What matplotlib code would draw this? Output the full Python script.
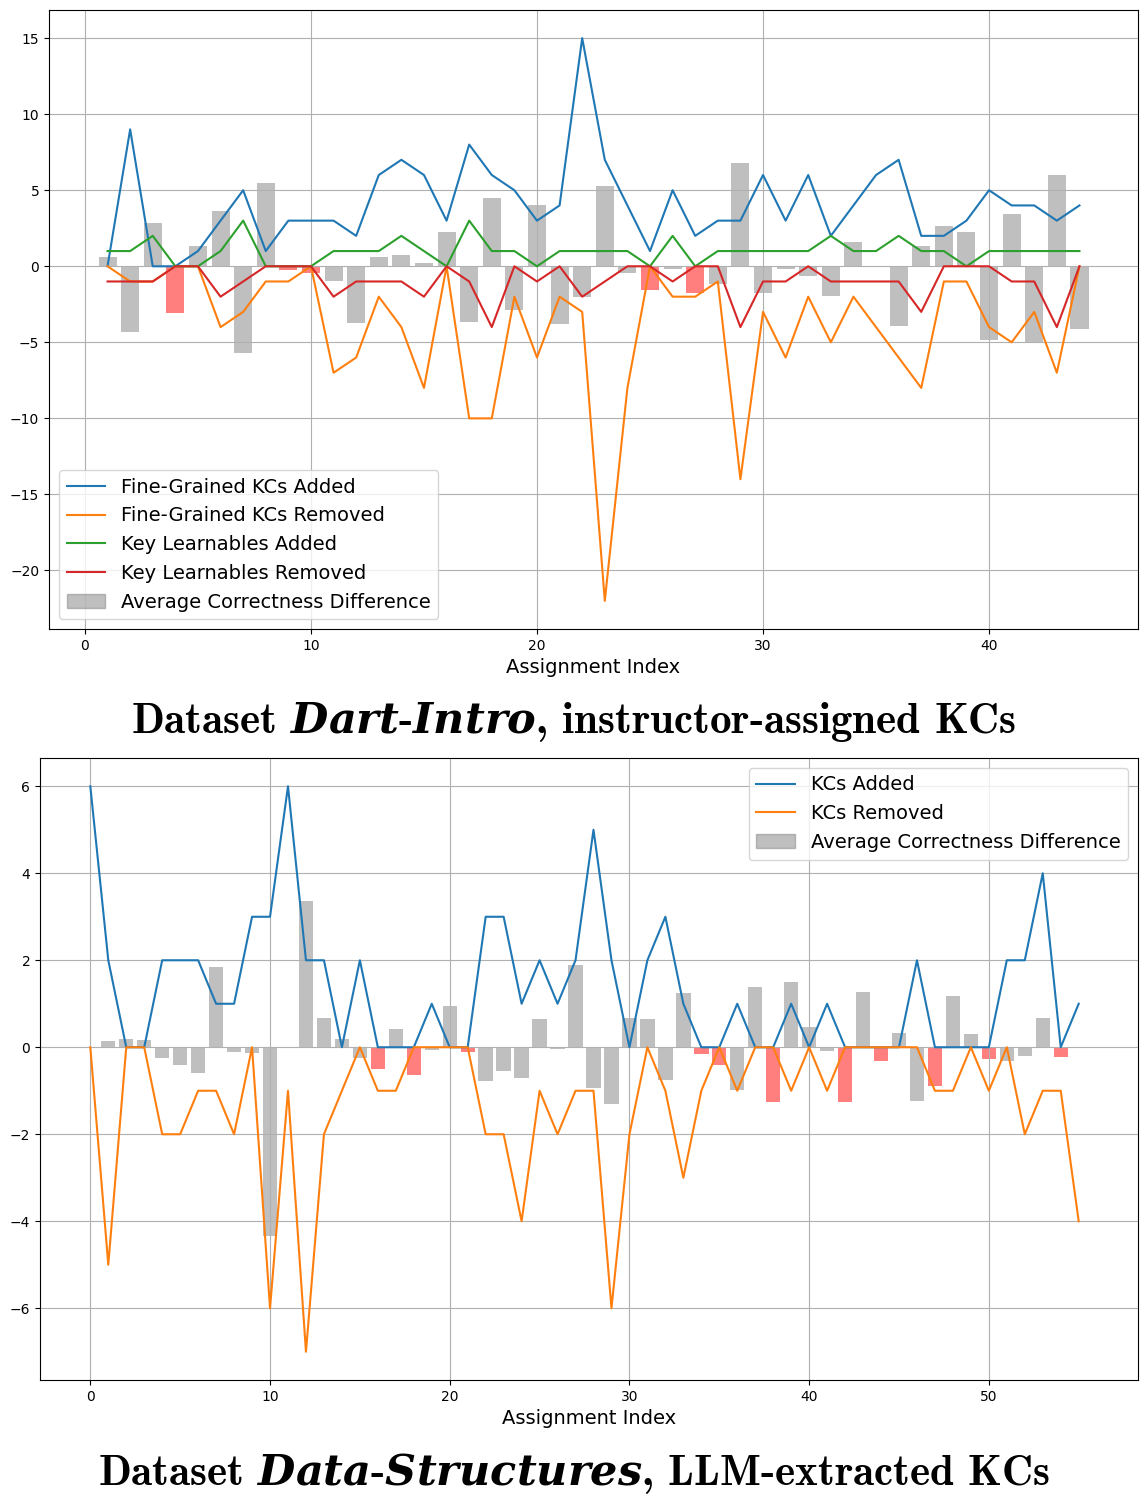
import numpy as np
import matplotlib
matplotlib.use("Agg")
import matplotlib.pyplot as plt
from matplotlib.patches import Patch

plt.rcParams['mathtext.fontset'] = 'custom'
plt.rcParams['mathtext.bf'] = 'cmb10'
plt.rcParams['mathtext.bfit'] = 'DejaVu Serif:italic:bold'

# --- Dataset Dart-Intro (instructor-assigned KCs), assignments 1..44
dart_idx = np.arange(1, 45)
dart_fg_added = [0, 9, 0, 0, 1, 3, 5, 1, 3, 3, 3, 2, 6, 7, 6, 3, 8, 6, 5, 3, 4, 15,
                 7, 4, 1, 5, 2, 3, 3, 6, 3, 6, 2, 4, 6, 7, 2, 2, 3, 5, 4, 4, 3, 4]
dart_fg_removed = [0, -1, -1, 0, 0, -4, -3, -1, -1, 0, -7, -6, -2, -4, -8, 0, -10, -10, -2, -6, -2, -3,
                   -22, -8, 0, -2, -2, -1, -14, -3, -6, -2, -5, -2, -4, -6, -8, -1, -1, -4, -5, -3, -7, 0]
dart_kl_added = [1, 1, 2, 0, 0, 1, 3, 0, 0, 0, 1, 1, 1, 2, 1, 0, 3, 1, 1, 0, 1, 1,
                 1, 1, 0, 2, 0, 1, 1, 1, 1, 1, 2, 1, 1, 2, 1, 1, 0, 1, 1, 1, 1, 1]
dart_kl_removed = [-1, -1, -1, 0, 0, -2, -1, 0, 0, 0, -2, -1, -1, -1, -2, 0, -1, -4, 0, -1, 0, -2,
                   -1, 0, 0, -1, 0, 0, -4, -1, -1, 0, -1, -1, -1, -1, -3, 0, 0, 0, -1, -1, -4, 0]
dart_corr_diff = [0.6, -4.3, 2.85, -3.05, 1.34, 3.64, -5.7, 5.48, -0.24, -0.44, -1.0, -3.7,
                  0.61, 0.75, 0.22, 2.28, -3.64, 4.5, -2.85, 4.03, -3.82, -2.04,
                  5.28, -0.42, -1.56, -0.15, -1.73, -1.16, 6.8, -1.73, -0.15, -0.61, -1.95, 1.6,
                  0.0, -3.9, 1.34, 2.65, 2.26, -4.87, 3.44, -4.96, 6.0, -4.14]

# --- Dataset Data-Structures (LLM-extracted KCs), assignments 0..55
ds_idx = np.arange(0, 56)
ds_added = [6, 2, 0, 0, 2, 2, 2, 1, 1, 3, 3, 6, 2, 2, 0, 2, 0, 0, 0, 1,
            0, 0, 3, 3, 1, 2, 1, 2, 5, 2, 0, 2, 3, 1, 0, 0, 1, 0, 0, 1,
            0, 1, 0, 0, 0, 0, 2, 0, 0, 0, 0, 2, 2, 4, 0, 1]
ds_removed = [0, -5, 0, 0, -2, -2, -1, -1, -2, 0, -6, -1, -7, -2, -1, 0, -1, -1, 0, 0,
              0, 0, -2, -2, -4, -1, -2, -1, -1, -6, -2, 0, -1, -3, -1, 0, -1, 0, 0, -1,
              0, -1, 0, 0, 0, 0, 0, -1, -1, 0, -1, 0, -2, -1, -1, -4]
ds_corr_diff = [0.0, 0.14, 0.18, 0.16, -0.25, -0.41, -0.59, 1.84, -0.11, -0.13, -4.35, 0.0,
                3.36, 0.67, 0.18, -0.25, -0.5, 0.41, -0.64, -0.06, 0.94, -0.11, -0.77, -0.54,
                -0.7, 0.64, -0.04, 1.89, -0.93, -1.3, 0.67, 0.64, -0.75, 1.24, -0.15, -0.4,
                -0.98, 1.38, -1.25, 1.49, 0.46, -0.08, -1.27, 1.26, -0.31, 0.32, -1.23, -0.9,
                1.17, 0.3, -0.27, -0.31, -0.2, 0.67, -0.22, 0.0]

W, H = 1147, 1496
fig = plt.figure(figsize=(W / 100, H / 100), dpi=100)


def bar_colors(values, added):
    # highlight drops where nothing was added
    return ['red' if (v < 0 and a == 0) else 'gray' for v, a in zip(values, added)]


# Top panel
ax1 = fig.add_axes([49 / W, 1 - 629 / H, (1138 - 49) / W, (629 - 10) / H])
ax1.plot(dart_idx, dart_fg_added, color='tab:blue', label='Fine-Grained KCs Added')
ax1.plot(dart_idx, dart_fg_removed, color='tab:orange', label='Fine-Grained KCs Removed')
ax1.plot(dart_idx, dart_kl_added, color='tab:green', label='Key Learnables Added')
ax1.plot(dart_idx, dart_kl_removed, color='tab:red', label='Key Learnables Removed')
ax1.bar(dart_idx, dart_corr_diff, width=0.8, alpha=0.5,
        color=bar_colors(dart_corr_diff, dart_kl_added))
ax1.grid(True)
ax1.set_xlabel('Assignment Index', fontsize=14)
handles = ax1.get_lines()[:4] + [Patch(color='gray', alpha=0.5)]
labels = [h.get_label() for h in handles[:4]] + ['Average Correctness Difference']
ax1.legend(handles, labels, loc='lower left', fontsize=14)

# Bottom panel
ax2 = fig.add_axes([40 / W, 1 - 1380 / H, (1138 - 40) / W, (1380 - 758) / H])
ax2.plot(ds_idx, ds_added, color='tab:blue', label='KCs Added')
ax2.plot(ds_idx, ds_removed, color='tab:orange', label='KCs Removed')
ax2.bar(ds_idx, ds_corr_diff, width=0.8, alpha=0.5,
        color=bar_colors(ds_corr_diff, ds_added))
ax2.set_xlim(-2.8, 58.3)
ax2.grid(True)
ax2.set_xlabel('Assignment Index', fontsize=14)
handles = ax2.get_lines()[:2] + [Patch(color='gray', alpha=0.5)]
labels = ['KCs Added', 'KCs Removed', 'Average Correctness Difference']
ax2.legend(handles, labels, loc='upper right', fontsize=14)

fig.text(0.5, 1 - 722 / H, r'Dataset $\mathbfit{Dart}$-$\mathbfit{Intro}$, instructor-assigned KCs',
         ha='center', va='center', fontsize=31, family='cmb10')
fig.text(0.5, 1 - 1474 / H, r'Dataset $\mathbfit{Data}$-$\mathbfit{Structures}$, LLM-extracted KCs',
         ha='center', va='center', fontsize=31, family='cmb10')

fig.savefig('out.png', dpi=100)
